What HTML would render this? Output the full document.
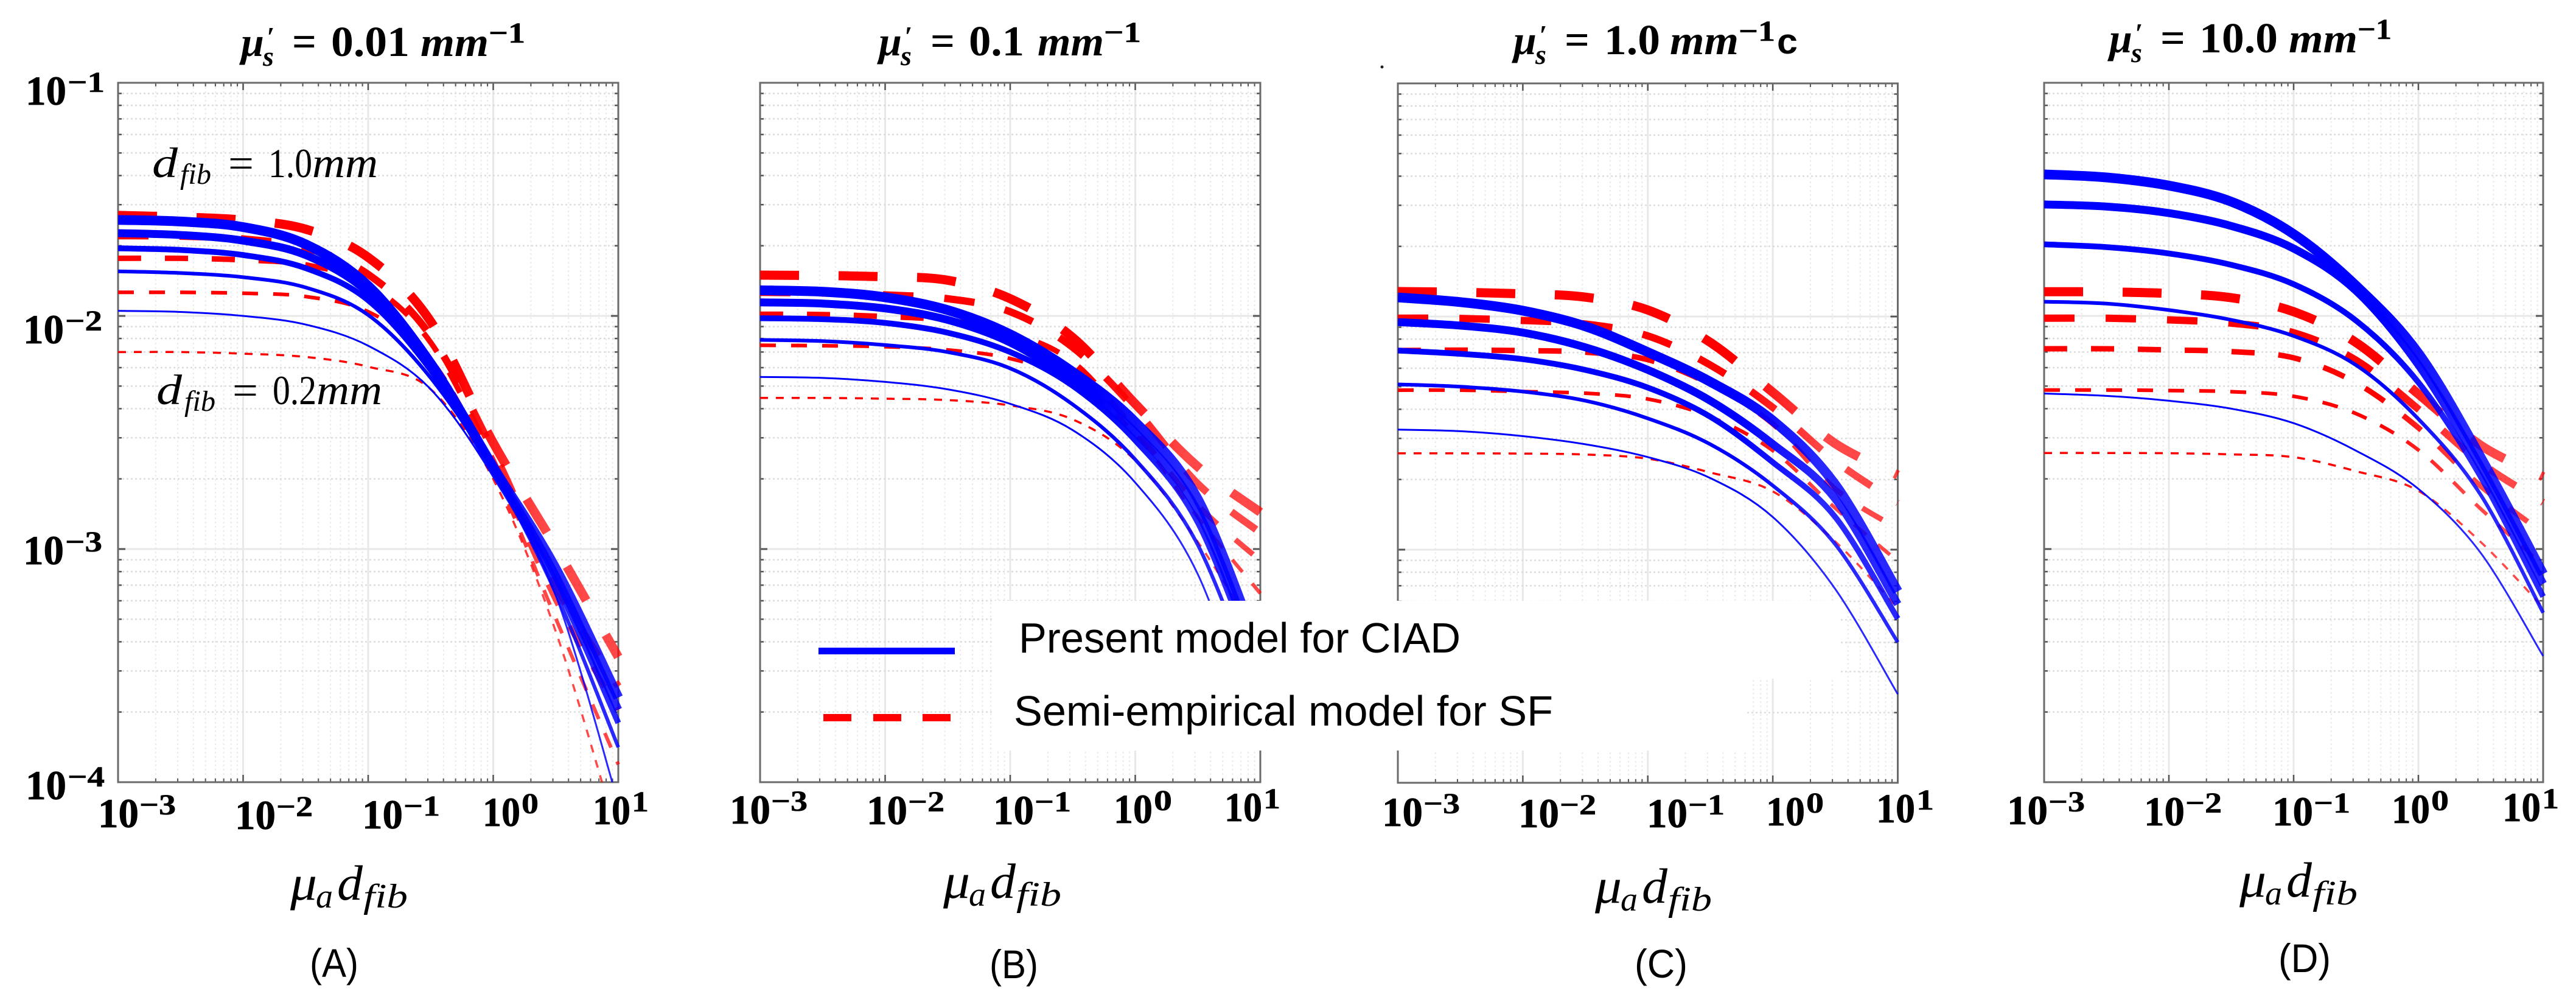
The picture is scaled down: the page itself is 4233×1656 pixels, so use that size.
<!DOCTYPE html>
<html lang="en">
<head>
<meta charset="utf-8">
<title>Reflectance versus absorption, four scattering levels</title>
<style>
html,body{margin:0;padding:0;background:#fff;width:4233px;height:1656px;overflow:hidden}
svg{display:block}
text{font-family:"Liberation Serif","DejaVu Serif",serif;fill:#000}
.ten{font-weight:bold;font-size:68px;stroke:#000;stroke-width:.8px}
.exp{font-weight:bold;font-size:48px;stroke:#000;stroke-width:.6px}
.tb{font-weight:bold;font-size:70px}
.tbi{font-weight:bold;font-style:italic;font-size:68px}
.tbs{font-weight:bold;font-style:italic;font-size:46px}
.ti{font-style:italic;font-size:82px}
.tis{font-style:italic;font-size:56px}
.ann{font-size:68px}
.anni{font-style:italic;font-size:70px}
.annis{font-style:italic;font-size:48px}
.sans{font-family:"Liberation Sans",sans-serif}
</style>
</head>
<body>
<svg xmlns="http://www.w3.org/2000/svg" width="4233" height="1656" viewBox="0 0 4233 1656">
<rect width="4233" height="1656" fill="#fff"/>
<defs id="chart-defs"></defs>
<g id="panels"></g>

<!-- white legend backing -->
<g>
<rect x="1634" y="987" width="1390" height="128" fill="#fff"/>
<rect x="1634" y="987" width="1236" height="246" fill="#fff"/>
<rect x="1345" y="1064" width="224" height="11" fill="#0000ff"/>
<rect x="1353" y="1173" width="46" height="12" fill="#ff0000"/>
<rect x="1435" y="1173" width="46" height="12" fill="#ff0000"/>
<rect x="1516" y="1173" width="46" height="12" fill="#ff0000"/>
<text class="sans" x="1674" y="1072" font-size="70" textLength="726" lengthAdjust="spacingAndGlyphs">Present model for CIAD</text>
<text class="sans" x="1666" y="1192" font-size="70" textLength="886" lengthAdjust="spacingAndGlyphs">Semi-empirical model for SF</text>
</g>

<!-- panel titles -->
<g>
<text class="tbi" x="396" y="92">μ</text><text class="tbs" x="432" y="108">s</text><text class="tbs" x="438" y="76">′</text>
<text class="tb" x="480" y="92" textLength="40" lengthAdjust="spacingAndGlyphs">=</text>
<text class="tb" x="544" y="92" textLength="129" lengthAdjust="spacingAndGlyphs">0.01</text>
<text class="tbi" x="691" y="92" textLength="112" lengthAdjust="spacingAndGlyphs">mm</text>
<text class="exp" x="803" y="70" textLength="60" lengthAdjust="spacingAndGlyphs">−1</text>
</g>
<g>
<text class="tbi" x="1444" y="91">μ</text><text class="tbs" x="1480" y="107">s</text><text class="tbs" x="1486" y="75">′</text>
<text class="tb" x="1529" y="91" textLength="40" lengthAdjust="spacingAndGlyphs">=</text>
<text class="tb" x="1592" y="91" textLength="91" lengthAdjust="spacingAndGlyphs">0.1</text>
<text class="tbi" x="1705" y="91" textLength="109" lengthAdjust="spacingAndGlyphs">mm</text>
<text class="exp" x="1814" y="69" textLength="61" lengthAdjust="spacingAndGlyphs">−1</text>
</g>
<g>
<text class="tbi" x="2487" y="89">μ</text><text class="tbs" x="2523" y="105">s</text><text class="tbs" x="2529" y="73">′</text>
<text class="tb" x="2571" y="89" textLength="41" lengthAdjust="spacingAndGlyphs">=</text>
<text class="tb" x="2636" y="89" textLength="92" lengthAdjust="spacingAndGlyphs">1.0</text>
<text class="tbi" x="2744" y="89" textLength="113" lengthAdjust="spacingAndGlyphs">mm</text>
<text class="exp" x="2857" y="67" textLength="60" lengthAdjust="spacingAndGlyphs">−1</text>
<text class="sans" x="2920" y="88" font-size="58" font-weight="bold" textLength="34" lengthAdjust="spacingAndGlyphs">c</text>
</g>
<g>
<text class="tbi" x="3466" y="86">μ</text><text class="tbs" x="3502" y="102">s</text><text class="tbs" x="3508" y="70">′</text>
<text class="tb" x="3550" y="86" textLength="41" lengthAdjust="spacingAndGlyphs">=</text>
<text class="tb" x="3614" y="86" textLength="129" lengthAdjust="spacingAndGlyphs">10.0</text>
<text class="tbi" x="3761" y="86" textLength="113" lengthAdjust="spacingAndGlyphs">mm</text>
<text class="exp" x="3874" y="64" textLength="56" lengthAdjust="spacingAndGlyphs">−1</text>
</g>
<circle cx="2271" cy="110" r="2.5" fill="#222"/>

<!-- y tick labels -->
<g>
<g><text class="ten" x="42" y="172" textLength="67" lengthAdjust="spacingAndGlyphs">10</text><text class="exp" x="111" y="151" textLength="61" lengthAdjust="spacingAndGlyphs">−1</text></g>
<g><text class="ten" x="38" y="564" textLength="67" lengthAdjust="spacingAndGlyphs">10</text><text class="exp" x="107" y="543" textLength="61" lengthAdjust="spacingAndGlyphs">−2</text></g>
<g><text class="ten" x="38" y="927" textLength="67" lengthAdjust="spacingAndGlyphs">10</text><text class="exp" x="107" y="906" textLength="61" lengthAdjust="spacingAndGlyphs">−3</text></g>
<g><text class="ten" x="42" y="1313" textLength="67" lengthAdjust="spacingAndGlyphs">10</text><text class="exp" x="111" y="1292" textLength="61" lengthAdjust="spacingAndGlyphs">−4</text></g>
</g>

<!-- x tick labels panel A -->
<g>
<g><text class="ten" x="161" y="1359" textLength="67" lengthAdjust="spacingAndGlyphs">10</text><text class="exp" x="229" y="1338" textLength="60" lengthAdjust="spacingAndGlyphs">−3</text></g>
<g><text class="ten" x="386" y="1362" textLength="67" lengthAdjust="spacingAndGlyphs">10</text><text class="exp" x="454" y="1341" textLength="60" lengthAdjust="spacingAndGlyphs">−2</text></g>
<g><text class="ten" x="595" y="1361" textLength="67" lengthAdjust="spacingAndGlyphs">10</text><text class="exp" x="663" y="1340" textLength="60" lengthAdjust="spacingAndGlyphs">−1</text></g>
<g><text class="ten" x="793" y="1357" textLength="62" lengthAdjust="spacingAndGlyphs">10</text><text class="exp" x="857" y="1336" textLength="28" lengthAdjust="spacingAndGlyphs">0</text></g>
<g><text class="ten" x="974" y="1354" textLength="62" lengthAdjust="spacingAndGlyphs">10</text><text class="exp" x="1038" y="1333" textLength="28" lengthAdjust="spacingAndGlyphs">1</text></g>
</g>
<!-- x tick labels panel B -->
<g>
<g><text class="ten" x="1199" y="1353" textLength="67" lengthAdjust="spacingAndGlyphs">10</text><text class="exp" x="1267" y="1332" textLength="60" lengthAdjust="spacingAndGlyphs">−3</text></g>
<g><text class="ten" x="1424" y="1354" textLength="67" lengthAdjust="spacingAndGlyphs">10</text><text class="exp" x="1492" y="1333" textLength="60" lengthAdjust="spacingAndGlyphs">−2</text></g>
<g><text class="ten" x="1632" y="1354" textLength="67" lengthAdjust="spacingAndGlyphs">10</text><text class="exp" x="1700" y="1333" textLength="60" lengthAdjust="spacingAndGlyphs">−1</text></g>
<g><text class="ten" x="1830" y="1352" textLength="64" lengthAdjust="spacingAndGlyphs">10</text><text class="exp" x="1896" y="1331" textLength="30" lengthAdjust="spacingAndGlyphs">0</text></g>
<g><text class="ten" x="2012" y="1349" textLength="62" lengthAdjust="spacingAndGlyphs">10</text><text class="exp" x="2076" y="1328" textLength="28" lengthAdjust="spacingAndGlyphs">1</text></g>
</g>
<!-- x tick labels panel C -->
<g>
<g><text class="ten" x="2271" y="1357" textLength="67" lengthAdjust="spacingAndGlyphs">10</text><text class="exp" x="2339" y="1336" textLength="60" lengthAdjust="spacingAndGlyphs">−3</text></g>
<g><text class="ten" x="2495" y="1359" textLength="67" lengthAdjust="spacingAndGlyphs">10</text><text class="exp" x="2563" y="1338" textLength="60" lengthAdjust="spacingAndGlyphs">−2</text></g>
<g><text class="ten" x="2706" y="1359" textLength="67" lengthAdjust="spacingAndGlyphs">10</text><text class="exp" x="2774" y="1338" textLength="60" lengthAdjust="spacingAndGlyphs">−1</text></g>
<g><text class="ten" x="2902" y="1356" textLength="64" lengthAdjust="spacingAndGlyphs">10</text><text class="exp" x="2968" y="1335" textLength="29" lengthAdjust="spacingAndGlyphs">0</text></g>
<g><text class="ten" x="3083" y="1351" textLength="64" lengthAdjust="spacingAndGlyphs">10</text><text class="exp" x="3149" y="1330" textLength="29" lengthAdjust="spacingAndGlyphs">1</text></g>
</g>
<!-- x tick labels panel D -->
<g>
<g><text class="ten" x="3298" y="1354" textLength="67" lengthAdjust="spacingAndGlyphs">10</text><text class="exp" x="3366" y="1333" textLength="60" lengthAdjust="spacingAndGlyphs">−3</text></g>
<g><text class="ten" x="3523" y="1356" textLength="67" lengthAdjust="spacingAndGlyphs">10</text><text class="exp" x="3591" y="1335" textLength="60" lengthAdjust="spacingAndGlyphs">−2</text></g>
<g><text class="ten" x="3734" y="1356" textLength="67" lengthAdjust="spacingAndGlyphs">10</text><text class="exp" x="3802" y="1335" textLength="60" lengthAdjust="spacingAndGlyphs">−1</text></g>
<g><text class="ten" x="3930" y="1352" textLength="63" lengthAdjust="spacingAndGlyphs">10</text><text class="exp" x="3995" y="1331" textLength="29" lengthAdjust="spacingAndGlyphs">0</text></g>
<g><text class="ten" x="4112" y="1349" textLength="63" lengthAdjust="spacingAndGlyphs">10</text><text class="exp" x="4177" y="1328" textLength="28" lengthAdjust="spacingAndGlyphs">1</text></g>
</g>

<!-- x axis titles -->
<g>
<text class="ti" x="477" y="1478" textLength="44" lengthAdjust="spacingAndGlyphs">μ</text><text class="tis" x="519" y="1491" textLength="28" lengthAdjust="spacingAndGlyphs">a</text><text class="ti" x="554" y="1478" textLength="42" lengthAdjust="spacingAndGlyphs">d</text><text class="tis" x="597" y="1491" textLength="73" lengthAdjust="spacingAndGlyphs">fib</text>
</g>
<g>
<text class="ti" x="1550" y="1475" textLength="44" lengthAdjust="spacingAndGlyphs">μ</text><text class="tis" x="1592" y="1488" textLength="28" lengthAdjust="spacingAndGlyphs">a</text><text class="ti" x="1627" y="1475" textLength="42" lengthAdjust="spacingAndGlyphs">d</text><text class="tis" x="1670" y="1488" textLength="74" lengthAdjust="spacingAndGlyphs">fib</text>
</g>
<g>
<text class="ti" x="2621" y="1483" textLength="44" lengthAdjust="spacingAndGlyphs">μ</text><text class="tis" x="2663" y="1496" textLength="28" lengthAdjust="spacingAndGlyphs">a</text><text class="ti" x="2698" y="1483" textLength="42" lengthAdjust="spacingAndGlyphs">d</text><text class="tis" x="2741" y="1496" textLength="72" lengthAdjust="spacingAndGlyphs">fib</text>
</g>
<g>
<text class="ti" x="3680" y="1473" textLength="44" lengthAdjust="spacingAndGlyphs">μ</text><text class="tis" x="3722" y="1486" textLength="28" lengthAdjust="spacingAndGlyphs">a</text><text class="ti" x="3757" y="1473" textLength="42" lengthAdjust="spacingAndGlyphs">d</text><text class="tis" x="3800" y="1486" textLength="74" lengthAdjust="spacingAndGlyphs">fib</text>
</g>

<!-- captions -->
<text class="sans" x="509" y="1605" font-size="66" textLength="80" lengthAdjust="spacingAndGlyphs">(A)</text>
<text class="sans" x="1626" y="1607" font-size="66" textLength="80" lengthAdjust="spacingAndGlyphs">(B)</text>
<text class="sans" x="2686" y="1606" font-size="66" textLength="87" lengthAdjust="spacingAndGlyphs">(C)</text>
<text class="sans" x="3744" y="1597" font-size="66" textLength="86" lengthAdjust="spacingAndGlyphs">(D)</text>

<!-- annotations in panel A -->
<g>
<text class="anni" x="250" y="291" textLength="42" lengthAdjust="spacingAndGlyphs">d</text><text class="annis" x="296" y="302" textLength="51" lengthAdjust="spacingAndGlyphs">fib</text><text class="ann" x="375" y="291" textLength="42" lengthAdjust="spacingAndGlyphs">=</text><text class="ann" x="441" y="291" textLength="72" lengthAdjust="spacingAndGlyphs">1.0</text><text class="anni" x="513" y="291" textLength="108" lengthAdjust="spacingAndGlyphs">mm</text>
</g>
<g>
<text class="anni" x="257" y="664" textLength="42" lengthAdjust="spacingAndGlyphs">d</text><text class="annis" x="303" y="675" textLength="51" lengthAdjust="spacingAndGlyphs">fib</text><text class="ann" x="382" y="664" textLength="42" lengthAdjust="spacingAndGlyphs">=</text><text class="ann" x="448" y="664" textLength="72" lengthAdjust="spacingAndGlyphs">0.2</text><text class="anni" x="520" y="664" textLength="108" lengthAdjust="spacingAndGlyphs">mm</text>
</g>
</svg>

<script>
// Data. X is log10(mu_a * d_fib); series are log10 of the y value.
const xLog10 = [-3, -2.5, -2, -1.5, -1, -0.5, 0, 0.5, 1];
const xTickExponents = [-3, -2, -1, 0, 1];
const yTickExponents = [-1, -2, -3, -4];
const fiberDiameters = ['1.0mm', '0.8mm', '0.6mm', '0.4mm', '0.2mm'];

const panelACiad = [
  [-1.588,-1.595,-1.619,-1.693,-1.871,-2.204,-2.648,-3.084,-3.637],
  [-1.645,-1.653,-1.677,-1.739,-1.899,-2.211,-2.648,-3.115,-3.689],
  [-1.710,-1.717,-1.739,-1.795,-1.933,-2.232,-2.655,-3.145,-3.746],
  [-1.809,-1.816,-1.834,-1.878,-1.996,-2.266,-2.665,-3.189,-3.850],
  [-1.978,-1.983,-2.000,-2.037,-2.128,-2.315,-2.690,-3.200,-4.090]
];
const panelASemi = [
  [-1.569,-1.576,-1.589,-1.628,-1.749,-2.024,-2.544,-2.993,-3.463],
  [-1.656,-1.658,-1.670,-1.709,-1.822,-2.086,-2.580,-3.158,-3.589],
  [-1.753,-1.753,-1.760,-1.781,-1.864,-2.114,-2.620,-3.219,-3.690],
  [-1.899,-1.899,-1.903,-1.917,-1.982,-2.183,-2.660,-3.298,-3.924],
  [-2.155,-2.155,-2.162,-2.176,-2.218,-2.315,-2.700,-3.354,-4.240]
];
const panelBCiad = [
  [-1.890,-1.896,-1.920,-1.975,-2.079,-2.240,-2.455,-2.786,-3.450],
  [-1.942,-1.947,-1.968,-2.017,-2.114,-2.280,-2.499,-2.838,-3.500],
  [-2.010,-2.014,-2.030,-2.072,-2.155,-2.300,-2.534,-2.886,-3.550],
  [-2.103,-2.108,-2.125,-2.155,-2.225,-2.380,-2.616,-2.982,-3.650],
  [-2.262,-2.266,-2.283,-2.315,-2.377,-2.490,-2.715,-3.108,-3.850]
];
const panelBSemi = [
  [-1.825,-1.827,-1.832,-1.847,-1.926,-2.093,-2.377,-2.647,-2.842],
  [-1.899,-1.902,-1.910,-1.926,-1.982,-2.135,-2.400,-2.720,-2.930],
  [-1.993,-1.994,-2.003,-2.019,-2.072,-2.197,-2.490,-2.812,-3.050],
  [-2.126,-2.128,-2.132,-2.146,-2.183,-2.280,-2.505,-2.864,-3.190],
  [-2.352,-2.352,-2.355,-2.361,-2.384,-2.444,-2.620,-2.969,-3.395]
];
const panelCCiad = [
  [-1.918,-1.938,-1.975,-2.042,-2.153,-2.280,-2.446,-2.721,-3.179],
  [-2.024,-2.039,-2.069,-2.132,-2.229,-2.361,-2.547,-2.782,-3.234],
  [-2.146,-2.160,-2.183,-2.229,-2.305,-2.430,-2.625,-2.860,-3.296],
  [-2.291,-2.301,-2.322,-2.361,-2.437,-2.548,-2.725,-2.977,-3.397],
  [-2.485,-2.492,-2.513,-2.548,-2.603,-2.693,-2.860,-3.169,-3.620]
];
const panelCSemi = [
  [-1.893,-1.896,-1.903,-1.917,-1.972,-2.111,-2.325,-2.545,-2.680],
  [-2.007,-2.008,-2.017,-2.032,-2.083,-2.208,-2.390,-2.620,-2.800],
  [-2.146,-2.144,-2.146,-2.153,-2.185,-2.291,-2.460,-2.740,-2.910],
  [-2.316,-2.316,-2.322,-2.329,-2.354,-2.430,-2.575,-2.822,-3.050],
  [-2.587,-2.587,-2.588,-2.592,-2.610,-2.669,-2.750,-2.965,-3.250]
];
const panelDCiad = [
  [-1.393,-1.406,-1.441,-1.510,-1.649,-1.870,-2.160,-2.607,-3.107],
  [-1.522,-1.531,-1.559,-1.614,-1.711,-1.892,-2.210,-2.647,-3.149],
  [-1.693,-1.705,-1.732,-1.781,-1.864,-2.020,-2.285,-2.690,-3.204],
  [-1.939,-1.947,-1.975,-2.017,-2.086,-2.211,-2.442,-2.768,-3.273],
  [-2.333,-2.343,-2.364,-2.398,-2.460,-2.578,-2.742,-3.017,-3.459]
];
const panelDSemi = [
  [-1.896,-1.897,-1.904,-1.922,-1.982,-2.114,-2.335,-2.555,-2.690],
  [-2.010,-2.010,-2.017,-2.031,-2.072,-2.190,-2.400,-2.630,-2.800],
  [-2.141,-2.141,-2.146,-2.153,-2.180,-2.287,-2.480,-2.730,-2.930],
  [-2.318,-2.318,-2.320,-2.325,-2.345,-2.419,-2.575,-2.828,-3.070],
  [-2.588,-2.588,-2.589,-2.594,-2.606,-2.666,-2.750,-2.970,-3.250]
];
const panelKeys = ['a', 'b', 'c', 'd'];
const ciadByPanel = [panelACiad, panelBCiad, panelCCiad, panelDCiad];
const semiByPanel = [panelASemi, panelBSemi, panelCSemi, panelDSemi];

// Plot frames and stroke styling, kept apart from the data.
const frames = {
  a: {left: 194, right: 1016, top: 136, bottom: 1285},
  b: {left: 1249, right: 2071, top: 136, bottom: 1285},
  c: {left: 2297, right: 3118.5, top: 137, bottom: 1286},
  d: {left: 3359, right: 4179, top: 136, bottom: 1285}
};
const ciadStyle = {widths: [16, 13, 9.5, 6, 3]};
const semiStyle = {widths: [15, 12, 9, 6, 3.5], dashes: ['64 65', '50 51', '38 39', '26 25', '13 13']};

const NS = 'http://www.w3.org/2000/svg';
const root = document.getElementById('panels');
const defs = document.getElementById('chart-defs');

function xScale(f, logX) { return f.left + (logX + 3) / 4 * (f.right - f.left); }
function yScale(f, logY) { return f.top + (-1 - logY) / 3 * (f.bottom - f.top); }

function svgEl(tag, attrs, parent) {
  const el = document.createElementNS(NS, tag);
  for (const k in attrs) el.setAttribute(k, attrs[k]);
  parent.appendChild(el);
  return el;
}
function pathFor(f, series) {
  const p = series.map((v, i) => [xScale(f, xLog10[i]), yScale(f, v)]);
  let d = 'M' + p[0][0].toFixed(1) + ' ' + p[0][1].toFixed(1);
  for (let i = 0; i < p.length - 1; i++) {
    const a = p[Math.max(i - 1, 0)], b = p[i], c = p[i + 1], e = p[Math.min(i + 2, p.length - 1)];
    const c1x = b[0] + (c[0] - a[0]) / 6, c1y = b[1] + (c[1] - a[1]) / 6;
    const c2x = c[0] - (e[0] - b[0]) / 6, c2y = c[1] - (e[1] - b[1]) / 6;
    d += 'C' + c1x.toFixed(1) + ' ' + c1y.toFixed(1) + ' ' + c2x.toFixed(1) + ' ' + c2y.toFixed(1) + ' ' + c[0].toFixed(1) + ' ' + c[1].toFixed(1);
  }
  return d;
}
function gradient(id, f, color, fadedOpacity) {
  const g = svgEl('linearGradient', {id: id, gradientUnits: 'userSpaceOnUse', x1: xScale(f, -0.3), x2: xScale(f, 0.4), y1: 0, y2: 0}, defs);
  svgEl('stop', {offset: 0, 'stop-color': color, 'stop-opacity': 1}, g);
  svgEl('stop', {offset: 1, 'stop-color': color, 'stop-opacity': fadedOpacity}, g);
}

panelKeys.forEach(function (key, pi) {
  const f = frames[key];
  const g = svgEl('g', {}, root);
  
  

  const clipId = 'clip-' + key;
  const clip = svgEl('clipPath', {id: clipId}, defs);
  svgEl('rect', {x: f.left, y: f.top, width: f.right - f.left + 9, height: f.bottom - f.top}, clip);
  gradient('blue-' + key, f, '#0000ff', 0.84);
  gradient('red-' + key, f, '#ff0000', 0.72);

  const grid = svgEl('g', {}, g);
  
  
  const ticks = svgEl('g', {}, g);
  
  

  // vertical grid and x ticks
  for (let e = -3; e <= 0; e++) {
    for (let m = 2; m <= 9; m++) {
      const x = xScale(f, e + Math.log10(m));
      svgEl('line', {x1: x, x2: x, y1: f.top, y2: f.bottom, stroke: '#ebebeb', 'stroke-width': 2, 'stroke-dasharray': '3 4'}, grid);
      svgEl('line', {x1: x, x2: x, y1: f.bottom, y2: f.bottom - 6, stroke: '#555', 'stroke-width': 2}, ticks);
      svgEl('line', {x1: x, x2: x, y1: f.top, y2: f.top + 6, stroke: '#555', 'stroke-width': 2}, ticks);
    }
  }
  xTickExponents.forEach(function (e) {
    const x = xScale(f, e);
    svgEl('line', {x1: x, x2: x, y1: f.top, y2: f.bottom, stroke: '#e8e8e8', 'stroke-width': 3}, grid);
    svgEl('line', {x1: x, x2: x, y1: f.bottom, y2: f.bottom - 12, stroke: '#555', 'stroke-width': 2.5}, ticks);
    svgEl('line', {x1: x, x2: x, y1: f.top, y2: f.top + 12, stroke: '#555', 'stroke-width': 2.5}, ticks);
  });
  // horizontal grid and y ticks
  for (let e = -4; e <= -2; e++) {
    for (let m = 2; m <= 9; m++) {
      const y = yScale(f, e + Math.log10(m));
      svgEl('line', {x1: f.left, x2: f.right, y1: y, y2: y, stroke: '#dcdcdc', 'stroke-width': 2.4, 'stroke-dasharray': '3 4'}, grid);
      svgEl('line', {x1: f.left, x2: f.left + 6, y1: y, y2: y, stroke: '#555', 'stroke-width': 2.5}, ticks);
      svgEl('line', {x1: f.right, x2: f.right - 6, y1: y, y2: y, stroke: '#555', 'stroke-width': 2.5}, ticks);
    }
  }
  yTickExponents.forEach(function (e) {
    const y = yScale(f, e);
    svgEl('line', {x1: f.left, x2: f.right, y1: y, y2: y, stroke: '#e8e8e8', 'stroke-width': 3}, grid);
    svgEl('line', {x1: f.left, x2: f.left + 12, y1: y, y2: y, stroke: '#555', 'stroke-width': 3}, ticks);
    svgEl('line', {x1: f.right, x2: f.right - 12, y1: y, y2: y, stroke: '#555', 'stroke-width': 3}, ticks);
  });

  const frame = svgEl('rect', {x: f.left, y: f.top, width: f.right - f.left, height: f.bottom - f.top, fill: 'none', stroke: '#6a6a6a', 'stroke-width': 3}, g);
  
  

  const curves = svgEl('g', {'clip-path': 'url(#' + clipId + ')'}, g);
  
  

  semiByPanel[pi].forEach(function (series, i) {
    const line = svgEl('path', {
      d: pathFor(f, series), fill: 'none', stroke: 'url(#red-' + key + ')',
      'stroke-width': semiStyle.widths[i], 'stroke-dasharray': semiStyle.dashes[i]
    }, curves);
    
    
  });
  ciadByPanel[pi].forEach(function (series, i) {
    const line = svgEl('path', {
      d: pathFor(f, series), fill: 'none', stroke: 'url(#blue-' + key + ')',
      'stroke-width': ciadStyle.widths[i]
    }, curves);
    
    
  });
});
</script>
</body>
</html>
